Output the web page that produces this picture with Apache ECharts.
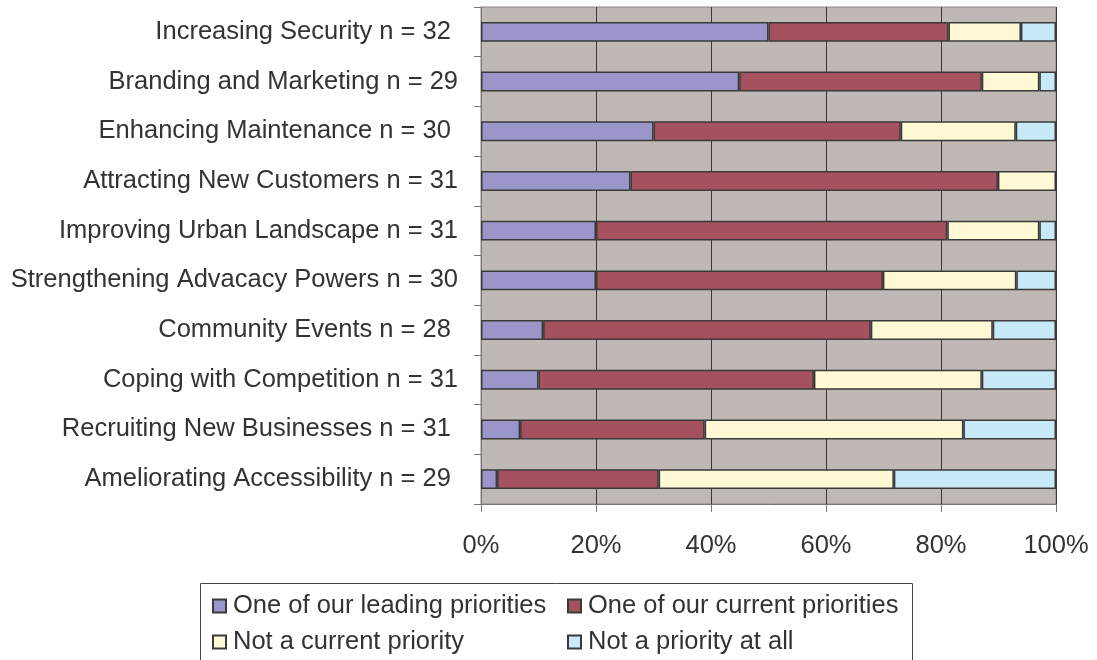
<!DOCTYPE html>
<html>
<head>
<meta charset="utf-8">
<script src="https://cdn.jsdelivr.net/npm/echarts@6/dist/echarts.min.js"></script>
<style>
  html, body { margin: 0; padding: 0; background: #ffffff; }
  #chart { width: 1097px; height: 660px; }
</style>
</head>
<body>
<div id="chart"></div>
<script>
// Priority categories, top to bottom
const categories = [
  'Increasing Security n = 32 ',
  'Branding and Marketing n = 29',
  'Enhancing Maintenance n = 30 ',
  'Attracting New Customers n = 31',
  'Improving Urban Landscape n = 31',
  'Strengthening Advacacy Powers n = 30',
  'Community Events n = 28 ',
  'Coping with Competition n = 31',
  'Recruiting New Businesses n = 31 ',
  'Ameliorating Accessibility n = 29 '
];

// Share of respondents (%) per answer
const leading    = [50.0, 44.9, 30.0, 26.0, 20.0, 20.0, 10.8, 10.0,  6.8,  2.8];
const current    = [31.3, 42.2, 43.0, 63.9, 61.1, 49.9, 57.0, 47.9, 32.1, 28.1];
const notCurrent = [12.6, 10.0, 20.0, 10.1, 16.0, 23.2, 21.2, 29.2, 45.0, 40.9];
const notAtAll   = [ 6.1,  2.9,  7.0,  0.0,  2.9,  6.9, 11.0, 12.9, 16.1, 28.2];

const seriesNames = [
  'One of our leading priorities',
  'One of our current priorities',
  'Not a current priority',
  'Not a priority at all'
];
const seriesColors = ['#9b96c9', '#a5515f', '#fffad5', '#c7e9f8'];
const tickLabels = ['0%', '20%', '40%', '60%', '80%', '100%'];

const FONT = '"Liberation Sans", Arial, sans-serif';
const TEXT = '#333333';
const FS = 25.5;

const chart = echarts.init(document.getElementById('chart'), null, { renderer: 'canvas' });

const values = [leading, current, notCurrent, notAtAll];
const series = values.map((arr, i) => ({
  name: seriesNames[i],
  type: 'bar',
  stack: 'total',
  barWidth: '40%',
  data: arr,
  itemStyle: { color: seriesColors[i], borderColor: '#3a3a3a', borderWidth: 1.5 },
  emphasis: { disabled: true }
}));

// Two vertical legends side by side so the items line up in columns
const legendCommon = {
  orient: 'vertical',
  top: 593,
  height: 80,
  padding: 0,
  itemGap: 10,
  itemWidth: 13,
  itemHeight: 13,
  icon: 'rect',
  textStyle: { fontFamily: FONT, fontSize: FS, color: TEXT, padding: [0, 0, 0, 2] },
  selectedMode: false
};

chart.setOption({
  animation: false,
  backgroundColor: '#ffffff',
  grid: {
    left: 481, right: 41, top: 7, bottom: 156,
    show: true,
    backgroundColor: '#c0b8b5',
    borderColor: '#8a8482',
    borderWidth: 1
  },
  xAxis: {
    type: 'value',
    min: 0, max: 100, interval: 20,
    axisLine: { show: true, lineStyle: { color: '#777', width: 1 } },
    axisTick: { show: true, length: 8, lineStyle: { color: '#777' } },
    axisLabel: {
      fontFamily: FONT, fontSize: FS, color: TEXT, margin: 29,
      formatter: v => tickLabels[Math.round(v / 20)]
    },
    splitLine: { show: true, lineStyle: { color: '#3d3535', width: 1 } }
  },
  yAxis: {
    type: 'category',
    data: categories,
    inverse: true,
    axisLine: { show: true, lineStyle: { color: '#777', width: 1 } },
    axisTick: { show: true, length: 7, lineStyle: { color: '#777' } },
    axisLabel: { fontFamily: FONT, fontSize: FS, color: TEXT, margin: 23, padding: [6, 0, 0, 0] },
    splitLine: { show: false }
  },
  legend: [
    Object.assign({ left: 212, data: [seriesNames[0], seriesNames[2]] }, legendCommon),
    Object.assign({ left: 567, data: [seriesNames[1], seriesNames[3]] }, legendCommon)
  ],
  graphic: [{
    type: 'rect',
    shape: { x: 200.5, y: 583.5, width: 712, height: 120 },
    style: { fill: 'none', stroke: '#444', lineWidth: 1 },
    silent: true
  }],
  series: series
});
</script>
</body>
</html>
